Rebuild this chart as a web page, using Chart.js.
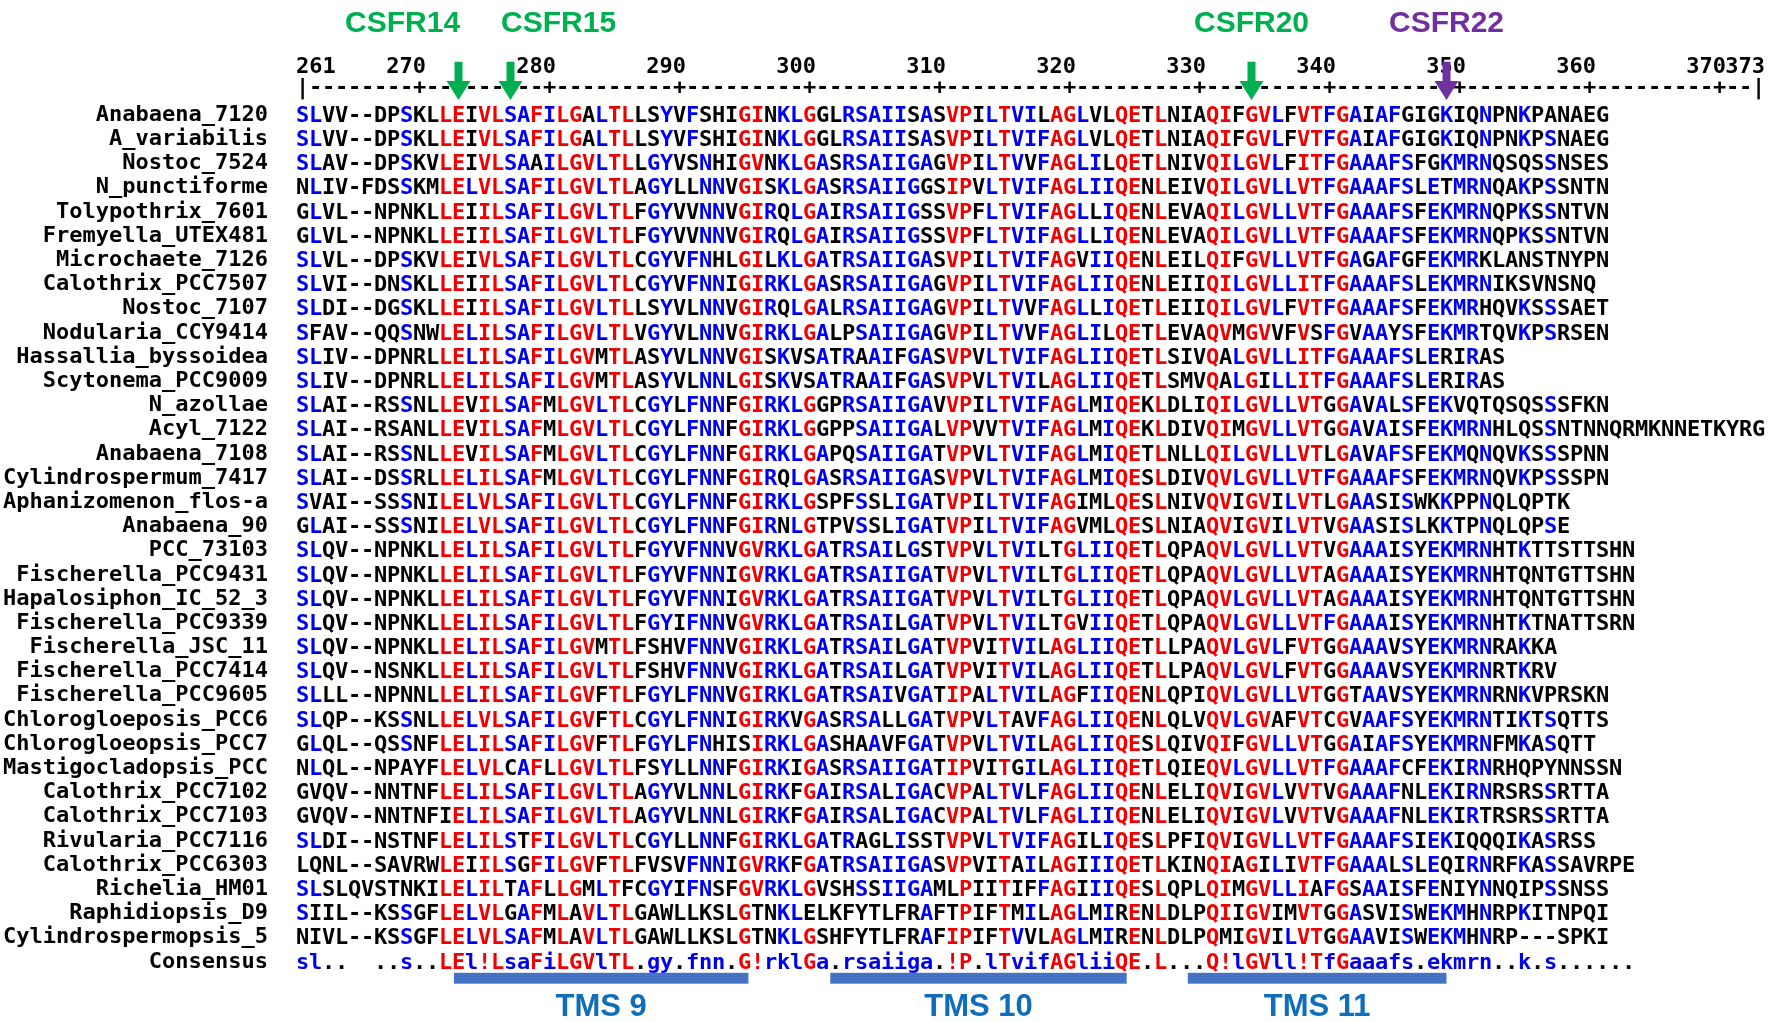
<!DOCTYPE html>
<html>
<head>
<meta charset="utf-8">
<script src="https://cdn.jsdelivr.net/npm/chart.js@4.4.1/dist/chart.umd.min.js"></script>
<style>
  html, body { margin: 0; background: #fff; }
  #wrap { width: 1768px; height: 1022px; position: relative; }
</style>
</head>
<body>
<div id="wrap"><canvas id="aln"></canvas></div>
<script>
// Alignment rows (names + aligned sequences), consensus line
const names = [
  'Anabaena_7120', 'A_variabilis', 'Nostoc_7524', 'N_punctiforme', 'Tolypothrix_7601',
  'Fremyella_UTEX481', 'Microchaete_7126', 'Calothrix_PCC7507', 'Nostoc_7107', 'Nodularia_CCY9414',
  'Hassallia_byssoidea', 'Scytonema_PCC9009', 'N_azollae', 'Acyl_7122', 'Anabaena_7108',
  'Cylindrospermum_7417', 'Aphanizomenon_flos-a', 'Anabaena_90', 'PCC_73103', 'Fischerella_PCC9431',
  'Hapalosiphon_IC_52_3', 'Fischerella_PCC9339', 'Fischerella_JSC_11', 'Fischerella_PCC7414', 'Fischerella_PCC9605',
  'Chlorogloeposis_PCC6', 'Chlorogloeopsis_PCC7', 'Mastigocladopsis_PCC', 'Calothrix_PCC7102', 'Calothrix_PCC7103',
  'Rivularia_PCC7116', 'Calothrix_PCC6303', 'Richelia_HM01', 'Raphidiopsis_D9', 'Cylindrospermopsis_5'
];

const sequences = [
  'SLVV--DPSKLLEIVLSAFILGALTLLSYVFSHIGINKLGGLRSAIISASVPILTVILAGLVLQETLNIAQIFGVLFVTFGAIAFGIGKIQNPNKPANAEG',
  'SLVV--DPSKLLEIVLSAFILGALTLLSYVFSHIGINKLGGLRSAIISASVPILTVIFAGLVLQETLNIAQIFGVLFVTFGAIAFGIGKIQNPNKPSNAEG',
  'SLAV--DPSKVLEIVLSAAILGVLTLLGYVSNHIGVNKLGASRSAIIGAGVPILTVVFAGLILQETLNIVQILGVLFITFGAAAFSFGKMRNQSQSSNSES',
  'NLIV-FDSSKMLELVLSAFILGVLTLAGYLLNNVGISKLGASRSAIIGGSIPVLTVIFAGLIIQENLEIVQILGVLLVTFGAAAFSLETMRNQAKPSSNTN',
  'GLVL--NPNKLLEIILSAFILGVLTLFGYVVNNVGIRQLGAIRSAIIGSSVPFLTVIFAGLLIQENLEVAQILGVLLVTFGAAAFSFEKMRNQPKSSNTVN',
  'GLVL--NPNKLLEIILSAFILGVLTLFGYVVNNVGIRQLGAIRSAIIGSSVPFLTVIFAGLLIQENLEVAQILGVLLVTFGAAAFSFEKMRNQPKSSNTVN',
  'SLVL--DPSKVLEIVLSAFILGVLTLCGYVFNHLGILKLGATRSAIIGASVPILTVIFAGVIIQENLEILQIFGVLLVTFGAGAFGFEKMRKLANSTNYPN',
  'SLVI--DNSKLLEIILSAFILGVLTLCGYVFNNIGIRKLGASRSAIIGAGVPILTVIFAGLIIQENLEIIQILGVLLITFGAAAFSLEKMRNIKSVNSNQ',
  'SLDI--DGSKLLEIILSAFILGVLTLLSYVLNNVGIRQLGALRSAIIGAGVPILTVVFAGLLIQETLEIIQILGVLFVTFGAAAFSFEKMRHQVKSSSAET',
  'SFAV--QQSNWLELILSAFILGVLTLVGYVLNNVGIRKLGALPSAIIGAGVPILTVVFAGLILQETLEVAQVMGVVFVSFGVAAYSFEKMRTQVKPSRSEN',
  'SLIV--DPNRLLELILSAFILGVMTLASYVLNNVGISKVSATRAAIFGASVPVLTVIFAGLIIQETLSIVQALGVLLITFGAAAFSLERIRAS',
  'SLIV--DPNRLLELILSAFILGVMTLASYVLNNLGISKVSATRAAIFGASVPVLTVILAGLIIQETLSMVQALGILLITFGAAAFSLERIRAS',
  'SLAI--RSSNLLEVILSAFMLGVLTLCGYLFNNFGIRKLGGPRSAIIGAVVPILTVIFAGLMIQEKLDLIQILGVLLVTGGAVALSFEKVQTQSQSSSFKN',
  'SLAI--RSANLLEVILSAFMLGVLTLCGYLFNNFGIRKLGGPPSAIIGALVPVVTVIFAGLMIQEKLDIVQIMGVLLVTGGAVAISFEKMRNHLQSSNTNNQRMKNNETKYRG',
  'SLAI--RSSNLLEVILSAFMLGVLTLCGYLFNNFGIRKLGAPQSAIIGATVPVLTVIFAGLMIQETLNLLQILGVLLVTLGAVAFSFEKMQNQVKSSSPNN',
  'SLAI--DSSRLLELILSAFMLGVLTLCGYLFNNFGIRQLGASRSAIIGASVPVLTVIFAGLMIQESLDIVQVLGVLLVTFGAAAFSFEKMRNQVKPSSSPN',
  'SVAI--SSSNILELVLSAFILGVLTLCGYLFNNFGIRKLGSPFSSLIGATVPILTVIFAGIMLQESLNIVQVIGVILVTLGAASISWKKPPNQLQPTK',
  'GLAI--SSSNILELVLSAFILGVLTLCGYLFNNFGIRNLGTPVSSLIGATVPILTVIFAGVMLQESLNIAQVIGVILVTVGAASISLKKTPNQLQPSE',
  'SLQV--NPNKLLELILSAFILGVLTLFGYVFNNVGVRKLGATRSAILGSTVPVLTVILTGLIIQETLQPAQVLGVLLVTVGAAAISYEKMRNHTKTTSTTSHN',
  'SLQV--NPNKLLELILSAFILGVLTLFGYVFNNIGVRKLGATRSAIIGATVPVLTVILTGLIIQETLQPAQVLGVLLVTAGAAAISYEKMRNHTQNTGTTSHN',
  'SLQV--NPNKLLELILSAFILGVLTLFGYVFNNIGVRKLGATRSAIIGATVPVLTVILTGLIIQETLQPAQVLGVLLVTAGAAAISYEKMRNHTQNTGTTSHN',
  'SLQV--NPNKLLELILSAFILGVLTLFGYIFNNVGVRKLGATRSAILGATVPVLTVILTGVIIQETLQPAQVLGVLLVTFGAAAISYEKMRNHTKTNATTSRN',
  'SLQV--NPNKLLELILSAFILGVMTLFSHVFNNVGIRKLGATRSAILGATVPVITVILAGLIIQETLLPAQVLGVLFVTGGAAAVSYEKMRNRAKKA',
  'SLQV--NSNKLLELILSAFILGVLTLFSHVFNNVGIRKLGATRSAILGATVPVITVILAGLIIQETLLPAQVLGVLFVTGGAAAVSYEKMRNRTKRV',
  'SLLL--NPNNLLELILSAFILGVFTLFGYLFNNVGIRKLGATRSAIVGATIPALTVILAGFIIQENLQPIQVLGVLLVTGGTAAVSYEKMRNRNKVPRSKN',
  'SLQP--KSSNLLELVLSAFILGVFTLCGYLFNNIGIRKVGASRSALLGATVPVLTAVFAGLIIQENLQLVQVLGVAFVTCGVAAFSYEKMRNTIKTSQTTS',
  'GLQL--QSSNFLELILSAFILGVFTLFGYLFNHISIRKLGASHAAVFGATVPVLTVILAGLIIQESLQIVQIFGVLLVTGGAIAFSYEKMRNFMKASQTT',
  'NLQL--NPAYFLELVLCAFLLGVLTLFSYLLNNFGIRKIGASRSAIIGATIPVITGILAGLIIQETLQIEQVLGVLLVTFGAAAFCFEKIRNRHQPYNNSSN',
  'GVQV--NNTNFLELILSAFILGVLTLAGYVLNNLGIRKFGAIRSALIGACVPALTVLFAGLIIQENLELIQVIGVLVVTVGAAAFNLEKIRNRSRSSRTTA',
  'GVQV--NNTNFIELILSAFILGVLTLAGYVLNNLGIRKFGAIRSALIGACVPALTVLFAGLIIQENLELIQVIGVLVVTVGAAAFNLEKIRTRSRSSRTTA',
  'SLDI--NSTNFLELILSTFILGVLTLCGYLLNNFGIRKLGATRAGLISSTVPVLTVIFAGILIQESLPFIQVIGVLLVTFGAAAFSIEKIQQQIKASRSS',
  'LQNL--SAVRWLEIILSGFILGVFTLFVSVFNNIGVRKFGATRSAIIGASVPVITAILAGIIIQETLKINQIAGILIVTFGAAALSLEQIRNRFKASSAVRPE',
  'SLSLQVSTNKILELILTAFLLGMLTFCGYIFNSFGVRKLGVSHSSIIGAMLPIITIFFAGIIIQESLQPLQIMGVLLIAFGSAAISFENIYNNQIPSSNSS',
  'SIIL--KSSGFLELVLGAFMLAVLTLGAWLLKSLGTNKLELKFYTLFRAFTPIFTMILAGLMIRENLDLPQIIGVIMVTGGASVISWEKMHNRPKITNPQI',
  'NIVL--KSSGFLELVLSAFMLAVLTLGAWLLKSLGTNKLGSHFYTLFRAFIPIFTVVLAGLMIRENLDLPQMIGVILVTGGAAVISWEKMHNRP---SPKI'
];

const consensusName = 'Consensus';
const consensus = 'sl..  ..s..LEl!LsaFiLGVlTL.gy.fnn.G!rklGa.rsaiiga.!P.lTvifAGliiQE.L...Q!lGVll!TfGaaafs.ekmrn..k.s......';

// Ruler
const firstPos = 261;
const lastPos = 373;
const rulerLabels = [261, 270, 280, 290, 300, 310, 320, 330, 340, 350, 360, 370, 373];

// Marked sites (arrow column, label centre column)
const siteNames = ['CSFR14', 'CSFR15', 'CSFR20', 'CSFR22'];
const siteArrowCols = [12, 16, 73, 88];
const siteLabelCols = [7.7, 19.7, 73, 88];
const siteColors = ['#00B050', '#00B050', '#00B050', '#7030A0'];

// Transmembrane segments (column range)
const tmsNames = ['TMS 9', 'TMS 10', 'TMS 11'];
const tmsFrom = [11.65, 40.6, 68.1];
const tmsTo = [34.3, 63.4, 88.0];

const RED = '#F00000', BLUE = '#0000F0', BLACK = '#000000';
const rowLabels = names.concat([consensusName]);
const nCols = lastPos - firstPos + 1;

// colour a residue by the consensus symbol of its column
function residueColor(ch, col) {
  const c = consensus[col];
  if (!c || ch === '-') return BLACK;
  if (c === '!') return (ch === 'I' || ch === 'V') ? RED : BLACK;
  if (!/[A-Za-z]/.test(c)) return BLACK;
  if (ch !== c.toUpperCase()) return BLACK;
  return c === c.toUpperCase() ? RED : BLUE;
}

function consensusColor(c) {
  if (c === '!') return RED;
  if (/[A-Z]/.test(c)) return RED;
  if (/[a-z]/.test(c)) return BLUE;
  return BLACK;
}

const points = [];
sequences.forEach((seq, row) => {
  for (let col = 0; col < seq.length; col++) {
    points.push({ x: col, y: row, ch: seq[col], color: residueColor(seq[col], col) });
  }
});
for (let col = 0; col < consensus.length; col++) {
  if (consensus[col] === ' ') continue;
  points.push({ x: col, y: names.length, ch: consensus[col], color: consensusColor(consensus[col]) });
}

const MONO = 'bold 22px "DejaVu Sans Mono", monospace';

const residuePlugin = {
  id: 'residues',
  afterDatasetsDraw(chart) {
    const ctx = chart.ctx;
    const meta = chart.getDatasetMeta(0);
    const data = chart.data.datasets[0].data;
    ctx.save();
    ctx.font = MONO;
    ctx.textAlign = 'center';
    ctx.textBaseline = 'middle';
    meta.data.forEach((pt, i) => {
      ctx.fillStyle = data[i].color;
      ctx.fillText(data[i].ch, pt.x, pt.y + 1);
    });
    ctx.restore();
  }
};

function drawArrow(ctx, x, yTop, yTip, color) {
  const shaft = 8, headW = 24, headH = 19;
  ctx.fillStyle = color;
  ctx.beginPath();
  ctx.moveTo(x - shaft / 2, yTop);
  ctx.lineTo(x + shaft / 2, yTop);
  ctx.lineTo(x + shaft / 2, yTip - headH);
  ctx.lineTo(x + headW / 2, yTip - headH);
  ctx.lineTo(x, yTip);
  ctx.lineTo(x - headW / 2, yTip - headH);
  ctx.lineTo(x - shaft / 2, yTip - headH);
  ctx.closePath();
  ctx.fill();
}

const decorPlugin = {
  id: 'decor',
  afterDraw(chart) {
    const ctx = chart.ctx;
    const xs = chart.scales.x, ys = chart.scales.y;
    ctx.save();

    // ruler line: | at ends, + at labelled positions
    ctx.font = MONO;
    ctx.fillStyle = BLACK;
    ctx.textAlign = 'center';
    ctx.textBaseline = 'middle';
    const yRuler = ys.getPixelForValue(-1.1);
    for (let col = 0; col < nCols; col++) {
      const pos = firstPos + col;
      let ch = '-';
      if (col === 0 || col === nCols - 1) ch = '|';
      else if (rulerLabels.includes(pos)) ch = '+';
      ctx.fillText(ch, xs.getPixelForValue(col), yRuler);
    }

    // position numbers
    const yNum = ys.getPixelForValue(-1.98);
    rulerLabels.forEach(pos => {
      const col = pos - firstPos;
      if (col === 0) {
        ctx.textAlign = 'left';
        ctx.fillText(String(pos), xs.getPixelForValue(-0.5), yNum);
      } else {
        ctx.textAlign = 'right';
        ctx.fillText(String(pos), xs.getPixelForValue(col + 0.5), yNum);
      }
    });

    // site labels + arrows
    ctx.font = 'bold 30px "Liberation Sans", Arial, sans-serif';
    ctx.textAlign = 'center';
    const yLab = ys.getPixelForValue(-3.78);
    const yTop = ys.getPixelForValue(-2.2);
    const yTip = ys.getPixelForValue(-0.62);
    siteNames.forEach((s, i) => {
      ctx.fillStyle = siteColors[i];
      ctx.fillText(s, xs.getPixelForValue(siteLabelCols[i]), yLab);
      drawArrow(ctx, xs.getPixelForValue(siteArrowCols[i]), yTop, yTip, siteColors[i]);
    });

    // TMS bars + labels
    const yb0 = ys.getPixelForValue(35.45), yb1 = ys.getPixelForValue(35.9);
    const yTms = ys.getPixelForValue(36.9);
    ctx.font = 'bold 31px "Liberation Sans", Arial, sans-serif';
    tmsNames.forEach((t, i) => {
      const x0 = xs.getPixelForValue(tmsFrom[i]);
      const x1 = xs.getPixelForValue(tmsTo[i]);
      ctx.fillStyle = '#4472C4';
      ctx.fillRect(x0, yb0, x1 - x0, yb1 - yb0);
      ctx.fillStyle = '#0F6EBB';
      ctx.fillText(t, (x0 + x1) / 2, yTms);
    });

    ctx.restore();
  }
};

new Chart(document.getElementById('aln'), {
  type: 'scatter',
  data: {
    datasets: [{
      data: points,
      pointRadius: 0,
      pointHoverRadius: 0,
      showLine: false
    }]
  },
  options: {
    responsive: true,
    maintainAspectRatio: false,
    animation: false,
    events: [],
    layout: { padding: { top: 103, bottom: 48, left: 0, right: 3 } },
    plugins: { legend: { display: false }, tooltip: { enabled: false } },
    scales: {
      x: {
        type: 'linear',
        min: -0.5,
        max: nCols - 0.5,
        display: false
      },
      y: {
        type: 'linear',
        reverse: true,
        min: -0.5,
        max: rowLabels.length - 0.5,
        afterBuildTicks: s => { s.ticks = rowLabels.map((_, i) => ({ value: i })); },
        afterFit: s => { s.width = 296; },
        grid: { display: false, drawTicks: false },
        border: { display: false },
        ticks: {
          autoSkip: false,
          padding: 28,
          color: BLACK,
          font: { family: 'DejaVu Sans Mono', size: 22, weight: 'bold' },
          callback: v => rowLabels[v]
        }
      }
    }
  },
  plugins: [residuePlugin, decorPlugin]
});
</script>
</body>
</html>
